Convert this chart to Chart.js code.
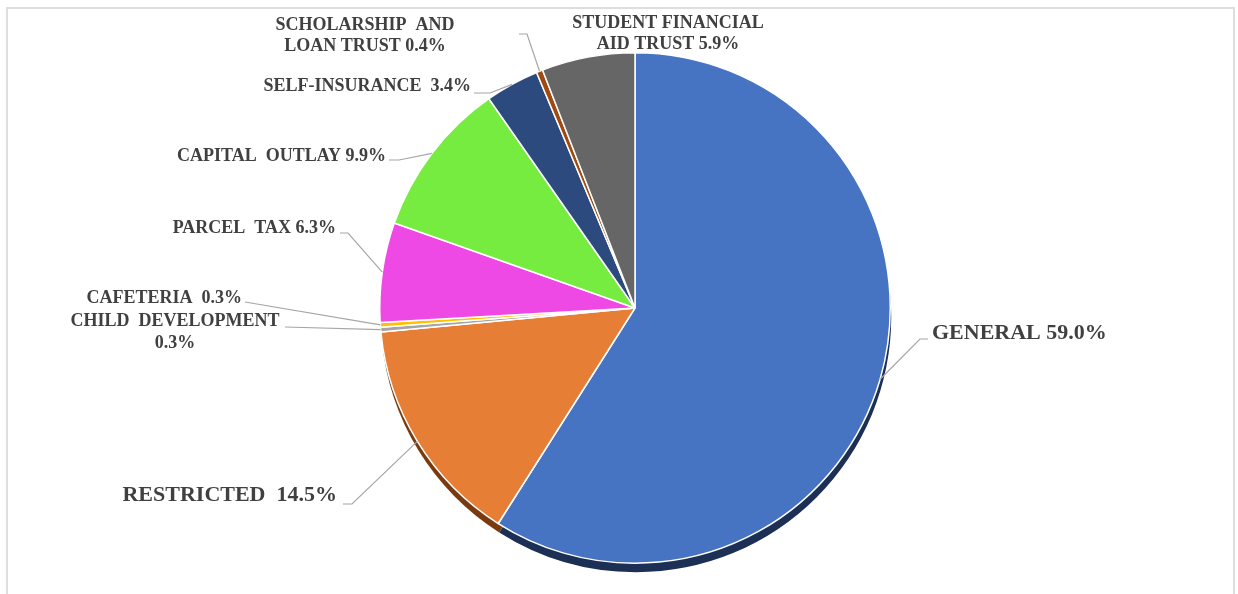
<!DOCTYPE html>
<html>
<head>
<meta charset="utf-8">
<script src="https://cdn.jsdelivr.net/npm/chart.js@4.4.1/dist/chart.umd.min.js"></script>
<style>
  html, body { margin: 0; padding: 0; background: #fff; }
  #wrap { position: relative; width: 1238px; height: 594px; overflow: hidden; }
  #frame { position: absolute; left: 6px; top: 7px; width: 1229px; height: 600px; border: 2px solid #dedede; box-sizing: border-box; }
  canvas { position: absolute; left: 0; top: 0; }
</style>
</head>
<body>
<div id="wrap">
  <div id="frame"></div>
  <canvas id="pie" width="1238" height="594"></canvas>
</div>
<script>
// fund share of total, clockwise from 12 o'clock
const funds = [
  'GENERAL', 'RESTRICTED', 'CHILD DEVELOPMENT', 'CAFETERIA', 'PARCEL TAX',
  'CAPITAL OUTLAY', 'SELF-INSURANCE', 'SCHOLARSHIP AND LOAN TRUST', 'STUDENT FINANCIAL AID TRUST'
];
const shares = [59.0, 14.5, 0.3, 0.3, 6.3, 9.9, 3.4, 0.4, 5.9];
const labelLines = [
  ['GENERAL 59.0%'],
  ['RESTRICTED  14.5%'],
  ['CHILD  DEVELOPMENT', '0.3%'],
  ['CAFETERIA  0.3%'],
  ['PARCEL  TAX 6.3%'],
  ['CAPITAL  OUTLAY 9.9%'],
  ['SELF-INSURANCE  3.4%'],
  ['SCHOLARSHIP  AND', 'LOAN TRUST 0.4%'],
  ['STUDENT FINANCIAL', 'AID TRUST 5.9%']
];

const sliceColors = ['#4673c2', '#e77e35', '#a5a5a5', '#ffc000', '#ee49e4', '#77ec40', '#2c4a7e', '#a04a10', '#666666'];
const shadowColors = ['#1c2f55', '#7a3a10', '#555', '#7a5c00', '#7a2575', '#3a7a20', '#152540', '#4f2408', '#333'];

// label placement (text anchor, alignment, leader points before the slice edge)
const labelLayout = [
  { x: 932, y: 333, align: 'left', size: 22, leader: [[928, 339], [920, 339]] },
  { x: 337, y: 495, align: 'right', size: 22, leader: [[343, 504], [352, 504]] },
  { x: 175, y: 321, align: 'center', size: 18, lh: 22, leader: [[285, 327]] },
  { x: 242, y: 298, align: 'right', size: 18, leader: [[245, 302]] },
  { x: 336, y: 228, align: 'right', size: 18, leader: [[340, 233], [348, 233]] },
  { x: 386, y: 156, align: 'right', size: 18, leader: [[389, 160], [399, 160]] },
  { x: 471, y: 86, align: 'right', size: 18, leader: [[474, 93], [490, 93]] },
  { x: 365, y: 25, align: 'center', size: 18, lh: 21, leader: [[519, 34], [527, 34]] },
  { x: 668, y: 23, align: 'center', size: 18, lh: 21, leader: null }
];

const pieShadow = {
  id: 'pieShadow',
  beforeDatasetsDraw(chart) {
    const ctx = chart.ctx;
    const arcs = chart.getDatasetMeta(0).data;
    ctx.save();
    arcs.forEach((a, i) => {
      ctx.beginPath();
      ctx.moveTo(a.x + 1, a.y + 9);
      ctx.arc(a.x + 1, a.y + 9, a.outerRadius, a.startAngle, a.endAngle);
      ctx.closePath();
      ctx.fillStyle = shadowColors[i];
      ctx.fill();
    });
    ctx.restore();
  }
};

const leaderLabels = {
  id: 'leaderLabels',
  afterDatasetsDraw(chart) {
    const ctx = chart.ctx;
    const arcs = chart.getDatasetMeta(0).data;
    ctx.save();
    arcs.forEach((a, i) => {
      const L = labelLayout[i];
      if (L.leader) {
        const mid = (a.startAngle + a.endAngle) / 2;
        const ex = a.x + Math.cos(mid) * a.outerRadius;
        const ey = a.y + Math.sin(mid) * a.outerRadius;
        ctx.beginPath();
        ctx.moveTo(L.leader[0][0], L.leader[0][1]);
        for (let k = 1; k < L.leader.length; k++) ctx.lineTo(L.leader[k][0], L.leader[k][1]);
        ctx.lineTo(ex, ey);
        ctx.strokeStyle = '#a6a6a6';
        ctx.lineWidth = 1.2;
        ctx.stroke();
      }
      ctx.fillStyle = '#404040';
      ctx.font = 'bold ' + L.size + 'px "Liberation Serif", "Times New Roman", serif';
      ctx.textAlign = L.align;
      ctx.textBaseline = 'middle';
      labelLines[i].forEach((t, k) => ctx.fillText(t, L.x, L.y + k * (L.lh || 0)));
    });
    ctx.restore();
  }
};

new Chart(document.getElementById('pie').getContext('2d'), {
  type: 'pie',
  data: {
    labels: funds,
    datasets: [{
      data: shares,
      backgroundColor: sliceColors,
      borderColor: '#ffffff',
      borderWidth: 1.5
    }]
  },
  options: {
    responsive: false,
    animation: false,
    layout: { padding: { left: 232, right: 200, top: 52, bottom: 30 } },
    plugins: {
      legend: { display: false },
      tooltip: { enabled: false }
    }
  },
  plugins: [pieShadow, leaderLabels]
});
</script>
</body>
</html>
